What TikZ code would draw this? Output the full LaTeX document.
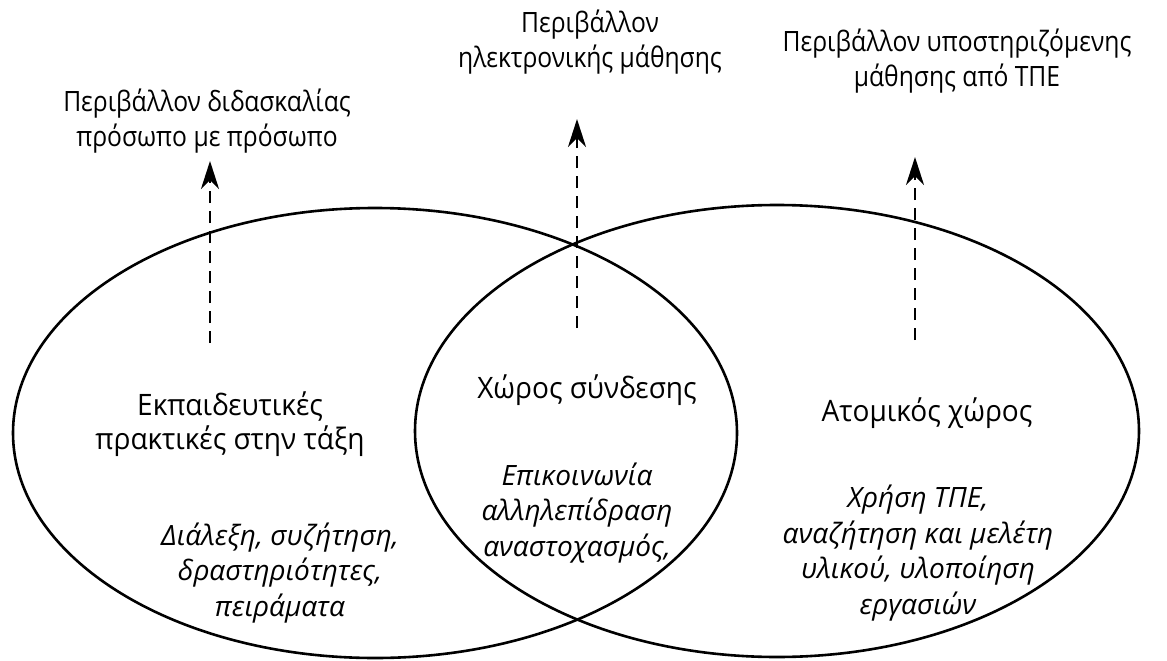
\documentclass[tikz,border=0pt]{standalone}
\usepackage{fontspec}
\setmainfont{Open Sans}
\newfontfamily\topfont[FakeStretch=0.88]{Open Sans}
\newfontfamily\headfont[FakeStretch=0.95]{Open Sans}
\usetikzlibrary{arrows.meta}
\tikzset{
  venn/.style={draw=black, line width=2.6pt},
  uparrow/.style={line width=2.8pt, dash pattern=on 12pt off 8pt, -{Stealth[length=28pt,width=18pt,inset=9pt]}},
  toplabel/.style={align=center, font=\topfont\fontsize{28}{35}\selectfont, inner sep=0pt},
  headlabel/.style={align=center, font=\headfont\fontsize{29.5}{34}\selectfont, inner sep=0pt},
  bodylabel/.style={align=center, font=\itshape\fontsize{28}{35.5}\selectfont, inner sep=0pt}
}
\begin{document}
\begin{tikzpicture}[x=1pt, y=-1pt]
\useasboundingbox (0,0) rectangle (1167,661);
% circles
\draw[venn] (375,433) ellipse [x radius=362, y radius=225];
\draw[venn] (777,431) ellipse [x radius=362, y radius=226];
% top labels
\node[toplabel] (tl) at (207,121) {Περιβάλλον διδασκαλίας\\πρόσωπο με πρόσωπο};
\node[toplabel] (tm) at (590,42) {Περιβάλλον\\ηλεκτρονικής μάθησης};
\node[toplabel] (tr) at (957,61) {Περιβάλλον υποστηριζόμενης\\μάθησης από ΤΠΕ};
% arrows
\coordinate (al0) at (210,343);
\coordinate (al1) at (210,161);
\coordinate (am0) at (577,328);
\coordinate (am1) at (577,119);
\coordinate (ar0) at (915,340);
\coordinate (ar1) at (915,157);
\draw[uparrow] (al0) -- (al1);
\draw[uparrow] (am0) -- (am1);
\draw[uparrow] (ar0) -- (ar1);
% inner labels
\node[headlabel] (hl) at (230,424) {Εκπαιδευτικές\\πρακτικές στην τάξη};
\node[headlabel] (hm) at (587,390) {Χώρος σύνδεσης};
\node[headlabel] (hr) at (927,413) {Ατομικός χώρος};
\node[bodylabel] (bl) at (280,573) {Διάλεξη, συζήτηση,\\δραστηριότητες,\\πειράματα};
\node[bodylabel] (bm) at (577,513) {Επικοινωνία\\αλληλεπίδραση\\αναστοχασμός,};
\node[bodylabel] (br) at (918,553) {Χρήση ΤΠΕ,\\αναζήτηση και μελέτη\\υλικού, υλοποίηση\\εργασιών};
\end{tikzpicture}
\end{document}
